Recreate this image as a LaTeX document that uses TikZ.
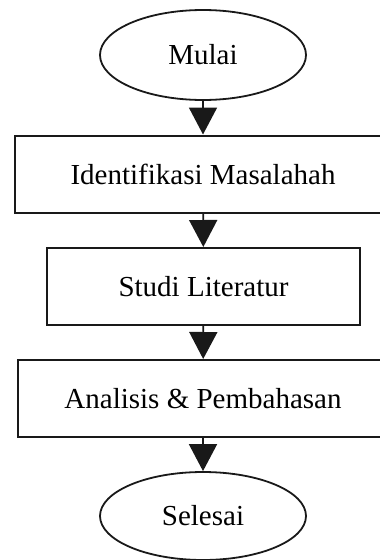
\documentclass[tikz,border=0pt]{standalone}
\usepackage{fontspec}
\setmainfont{Liberation Serif}
\usetikzlibrary{shapes.geometric,arrows.meta}
\tikzset{
  flow/.style={line width=1.8pt, draw=black!90, -{Triangle[width=28pt,length=27pt]}},
  term/.style={ellipse, draw=black!90, line width=1.8pt, minimum width=206pt, minimum height=90pt, inner sep=0pt, font=\fontsize{29}{34}\selectfont},
  stepbox/.style={rectangle, draw=black!90, line width=2pt, minimum height=77pt, inner sep=0pt, font=\fontsize{29}{34}\selectfont}
}
\begin{document}
\begin{tikzpicture}[x=1pt,y=-1pt]
\useasboundingbox (0,0) rectangle (380,560);
\clip (0,0) rectangle (380,560);
\node[term] (start) at (203,55) {Mulai};
\node[stepbox, minimum width=376pt] (idm) at (203,174) {Identifikasi Masalahah};
\node[stepbox, minimum width=313pt] (studi) at (203.5,286.5) {Studi Literatur};
\node[stepbox, minimum width=370pt] (anal) at (203,398.5) {Analisis \& Pembahasan};
\node[term, minimum height=88pt] (end) at (203,516) {Selesai};
\draw[flow] (start) -- (idm);
\draw[flow] (idm) -- (studi);
\draw[flow] (studi) -- (anal);
\draw[flow] (anal) -- (end);
\end{tikzpicture}
\end{document}
